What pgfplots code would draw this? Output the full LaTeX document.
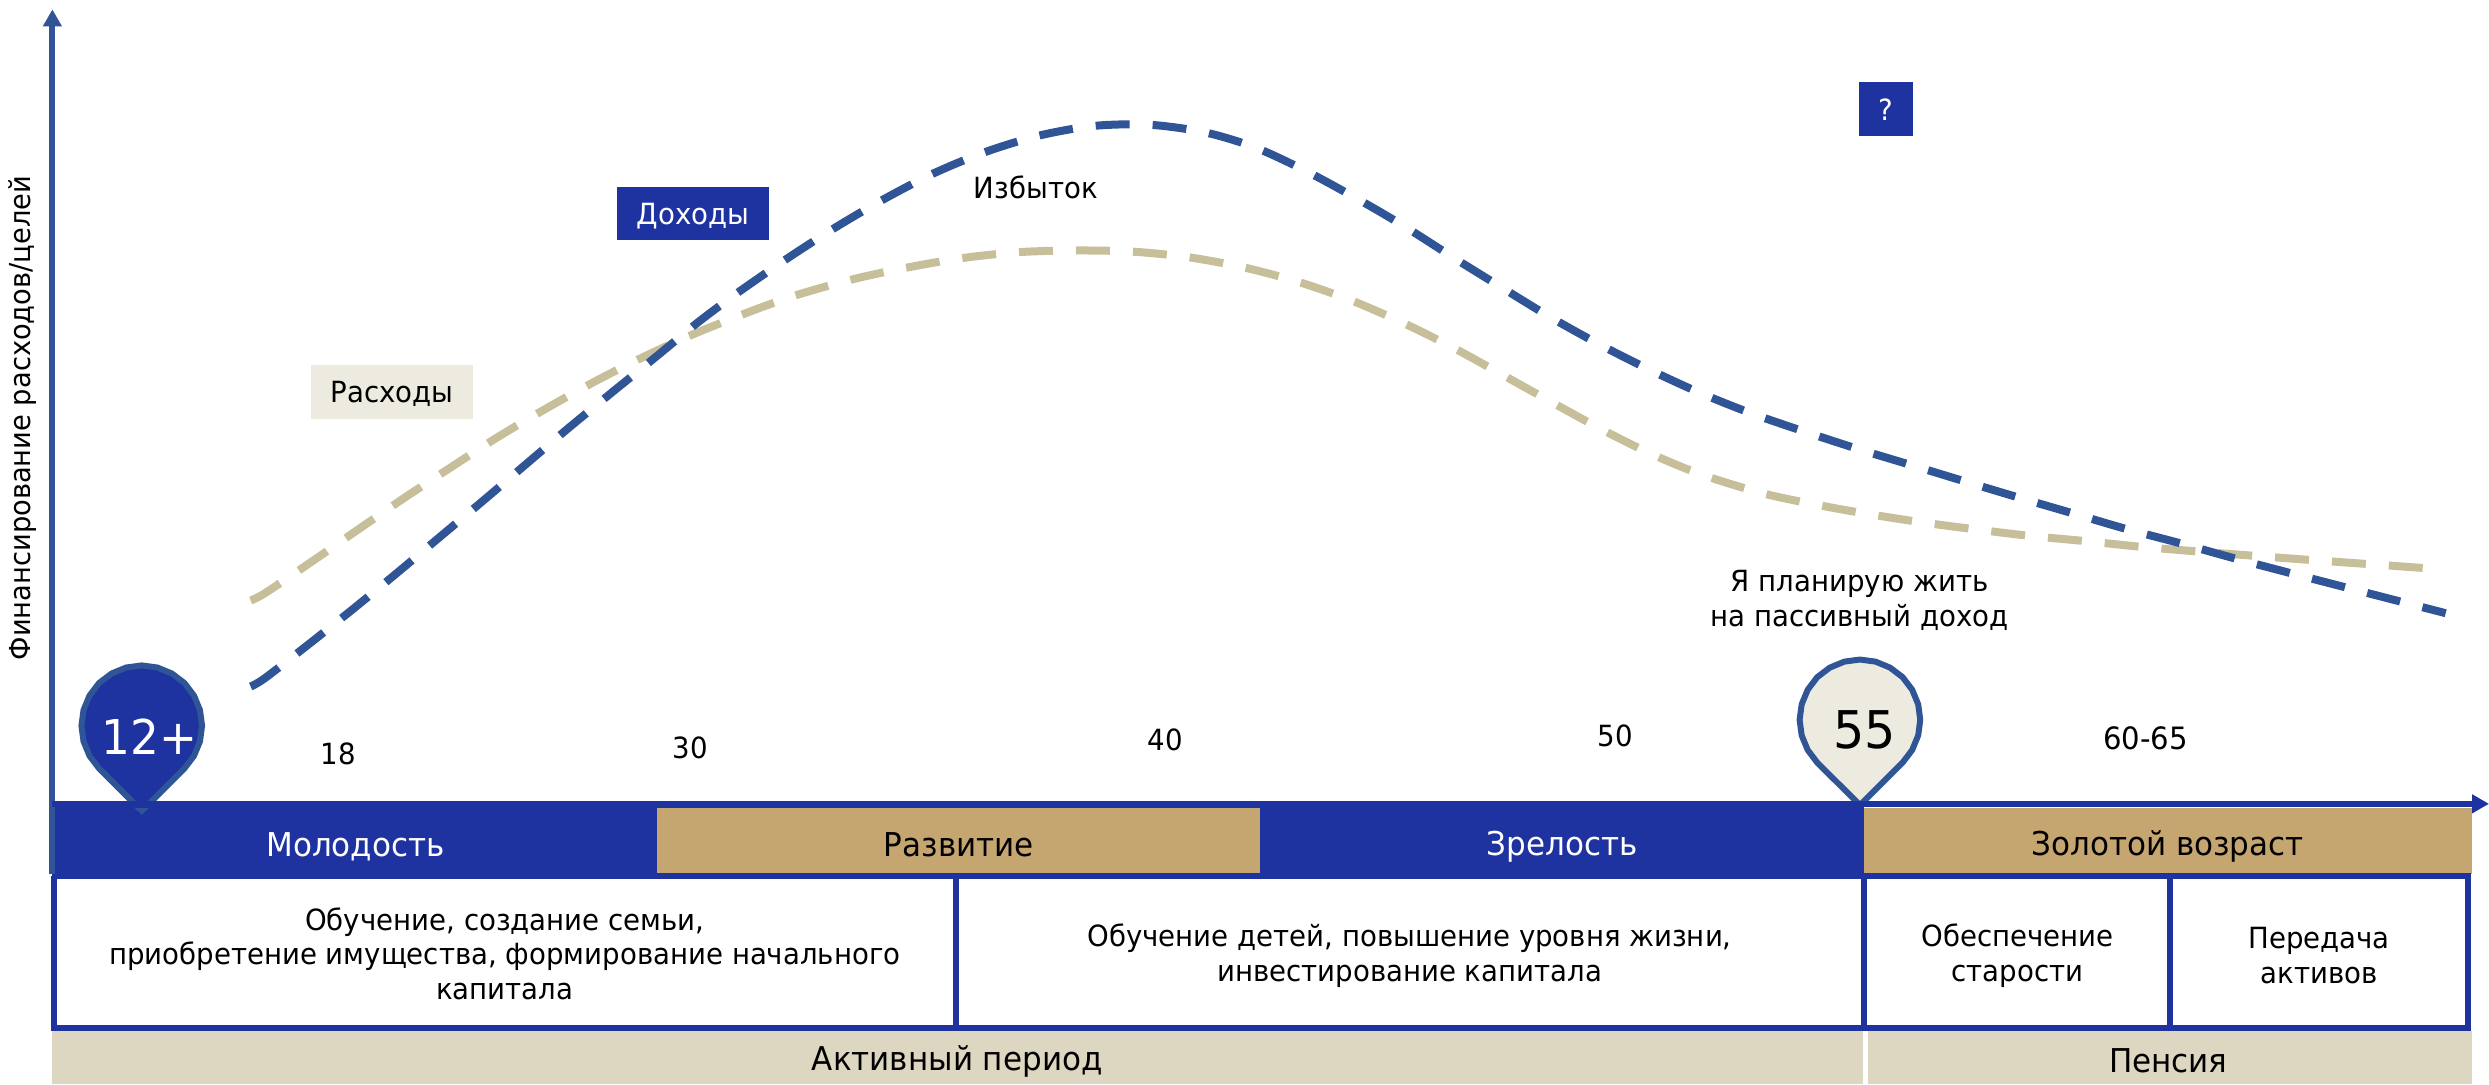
\documentclass[border=0pt]{standalone}
\usepackage{fontspec}
\setmainfont[FakeStretch=0.945]{DejaVu Sans}
\usepackage{pgfplots}
\usepackage{pgfplotstable}
\pgfplotsset{compat=1.18}
\usetikzlibrary{arrows.meta}

\definecolor{navy}{HTML}{1E32A0}
\definecolor{lineblue}{HTML}{2F5597}
\definecolor{dashbeige}{HTML}{C7BE9A}
\definecolor{gold}{HTML}{C5A670}
\definecolor{sand}{HTML}{DDD7C1}
\definecolor{pale}{HTML}{EDEBE0}

% income and expenses, in picture units
\pgfplotstableread{
x y
157.9 250.4
166.9 255.7
194.8 277.3
222.6 299.4
249.9 321.8
276.7 344.3
303.8 367
330.7 389.9
357.6 412.8
384.9 435.2
412.2 457.3
439.9 480
465.7 499.2
497.2 520.9
526.6 539.8
557.1 557.6
588.4 573.8
620.9 587.2
654.7 597.5
689.4 603.6
724.4 604.3
759.6 599.4
791.7 589.6
825 574
859.9 554.9
886.5 539.2
916.1 520.3
946 501.8
976 483.5
1006.9 466.3
1038.3 450.4
1070.5 435.6
1103 422.6
1137.1 410.9
1170.3 400.1
1204 389.9
1237.9 379.6
1271.5 369.5
1305.5 359.6
1339.3 349.7
1373.3 340.7
1407.1 331.3
1441.6 322.2
1475.6 313.4
1509.6 304.6
1540.7 296.6
}\income
\pgfplotstableread{
x y
157.9 304.6
166.9 309.2
196.4 329.1
225.3 349.1
254.5 369.1
283.9 388.4
313.5 407.5
344 425.5
374.6 442.5
405.9 458.3
438.3 473
476.7 488.2
504.4 497.8
538.2 507.2
572.8 514.6
607.5 520.5
642.6 524.1
677.8 525.1
713.1 524.4
748.2 520.9
782.9 514.6
817.3 505.5
850.4 494
882.8 480
914.5 464.4
945.4 447.4
976 430.4
1007.1 413.4
1038.8 397.6
1071.2 384.2
1108.7 372.6
1139.2 365.9
1173.8 359.6
1208.9 354.1
1243.7 349.5
1278.8 345.3
1313.9 342
1348.9 338.4
1384.2 335.5
1419.4 332.8
1454.6 330.2
1489.8 327.7
1524.9 325.2
1535 324.6
}\expenses
% pin outline around its centre
\pgfplotstableread{
x y
0 -53.7
-26.9 -26.9
-32.9 -19
-36.7 -9.8
-38 0
-36.7 9.8
-32.9 19
-26.9 26.9
-19 32.9
-9.8 36.7
0 38
9.8 36.7
19 32.9
26.9 26.9
32.9 19
36.7 9.8
38 0
36.7 -9.8
32.9 -19
26.9 -26.9
0 -53.7
}\pin

\newcommand{\fs}[1]{\fontsize{#1}{17.3}\selectfont}
\tikzset{lbl/.style={font=\fs{14.6}, align=center, text=black}}
\pgfplotsset{
    band/.style={draw=none, forget plot},
    rule/.style={draw=navy, line width=3pt, forget plot},
}

\begin{document}
\begin{tikzpicture}
\path[use as bounding box] (0,0) rectangle (1244.5pt,542pt);
\begin{axis}[
    at={(0,0)},
    anchor=south west,
    scale only axis,
    width=1244.5pt,
    height=542pt,
    xmin=0, xmax=1568,
    ymin=0, ymax=682.9,
    hide axis,
    clip=false,
    every axis plot/.append style={no markers},
]
% pins sit behind the band
\addplot[fill=navy, draw=lineblue, line width=3pt, line join=round] table[x expr=\thisrow{x}+89.3, y expr=\thisrow{y}+225.7] {\pin};
\addplot[fill=pale, draw=lineblue, line width=3pt, line join=round] table[x expr=\thisrow{x}+1171.7, y expr=\thisrow{y}+229.4] {\pin};

% bottom strip
\addplot[band, fill=sand] coordinates {(33,0) (1173.5,0) (1173.5,33.4) (33,33.4)} -- cycle;
\addplot[band, fill=sand] coordinates {(1177,0) (1557,0) (1557,33.4) (1177,33.4)} -- cycle;

% age bands
\addplot[band, fill=navy] coordinates {(33,129.2) (1174,129.2) (1174,177.3) (33,177.3)} -- cycle;
\addplot[band, fill=gold] coordinates {(414,133) (794,133) (794,174) (414,174)} -- cycle;
\addplot[band, fill=gold] coordinates {(1174,132) (1557,132) (1557,174) (1174,174)} -- cycle;
\addplot[band, fill=lineblue] coordinates {(84.6,174) (94,174) (89.3,169.6)} -- cycle;

% table frame
\addplot[rule] coordinates {(34,131) (1555,131) (1555,35.4) (34,35.4) (34,131)};
\addplot[rule] coordinates {(602,131) (602,35.4)};
\addplot[rule] coordinates {(1174,131) (1174,35.4)};
\addplot[rule] coordinates {(1367,131) (1367,35.4)};

% axes
\addplot[draw=lineblue, line width=2.9pt, -{Triangle[length=8.5pt,width=9pt]}] coordinates {(33,132) (33,677)};
\addplot[draw=navy, line width=2.9pt, -{Triangle[length=8.5pt,width=9pt]}] coordinates {(33,176.5) (1568,176.5)};

% curves
\addplot[draw=dashbeige, line width=4pt, smooth, tension=0.5, dash pattern=on 17pt off 11.5pt] table {\expenses};
\addplot[draw=lineblue, line width=4pt, smooth, tension=0.5, dash pattern=on 17pt off 11.5pt] table {\income};

% boxes
\addplot[band, fill=navy] coordinates {(388.8,531.4) (484.6,531.4) (484.6,565.2) (388.8,565.2)} -- cycle;
\addplot[band, fill=pale] coordinates {(196,419) (298,419) (298,453) (196,453)} -- cycle;
\addplot[band, fill=navy] coordinates {(1171,597) (1205,597) (1205,631) (1171,631)} -- cycle;

\node[lbl, text=white] at (axis cs:436.7,547) {Доходы};
\node[lbl] at (axis cs:247,434.5) {Расходы};
\node[lbl, text=white] at (axis cs:1188,614) {?};
\node[lbl] at (axis cs:652.5,565) {Избыток};
\node[lbl] at (axis cs:1171.5,304.5) {Я планирую жить\\на пассивный доход};

\node[lbl, rotate=90, font=\fs{14.45}] at (axis cs:14.5,419.5) {Финансирование расходов/целей};

\node[lbl, text=white, font=\fs{24}] at (axis cs:94,219) {12+};
\node[lbl, font=\fs{26}] at (axis cs:1174.5,223) {55};

\node[lbl] at (axis cs:213,208) {18};
\node[lbl] at (axis cs:435,211.5) {30};
\node[lbl] at (axis cs:734,216.5) {40};
\node[lbl] at (axis cs:1017.5,219.5) {50};
\node[lbl, font=\fs{15.4}] at (axis cs:1351.5,218) {60-65};

\node[lbl, text=white, font=\fs{16.4}] at (axis cs:224,149.5) {Молодость};
\node[lbl, font=\fs{16.4}] at (axis cs:604,151) {Развитие};
\node[lbl, text=white, font=\fs{16.4}] at (axis cs:984,149.5) {Зрелость};
\node[lbl, font=\fs{16.4}] at (axis cs:1365.5,149.5) {Золотой возраст};

\node[lbl] at (axis cs:318,82) {Обучение, создание семьи,\\приобретение имущества, формирование начального\\капитала};
\node[lbl] at (axis cs:888,81) {Обучение детей, повышение уровня жизни,\\инвестирование капитала};
\node[lbl] at (axis cs:1271,81) {Обеспечение\\старости};
\node[lbl] at (axis cs:1461,81) {Передача\\активов};

\node[lbl, font=\fs{16.4}] at (axis cs:603,14.5) {Активный период};
\node[lbl, font=\fs{16.4}] at (axis cs:1366,14.5) {Пенсия};
\end{axis}
\end{tikzpicture}
\end{document}
